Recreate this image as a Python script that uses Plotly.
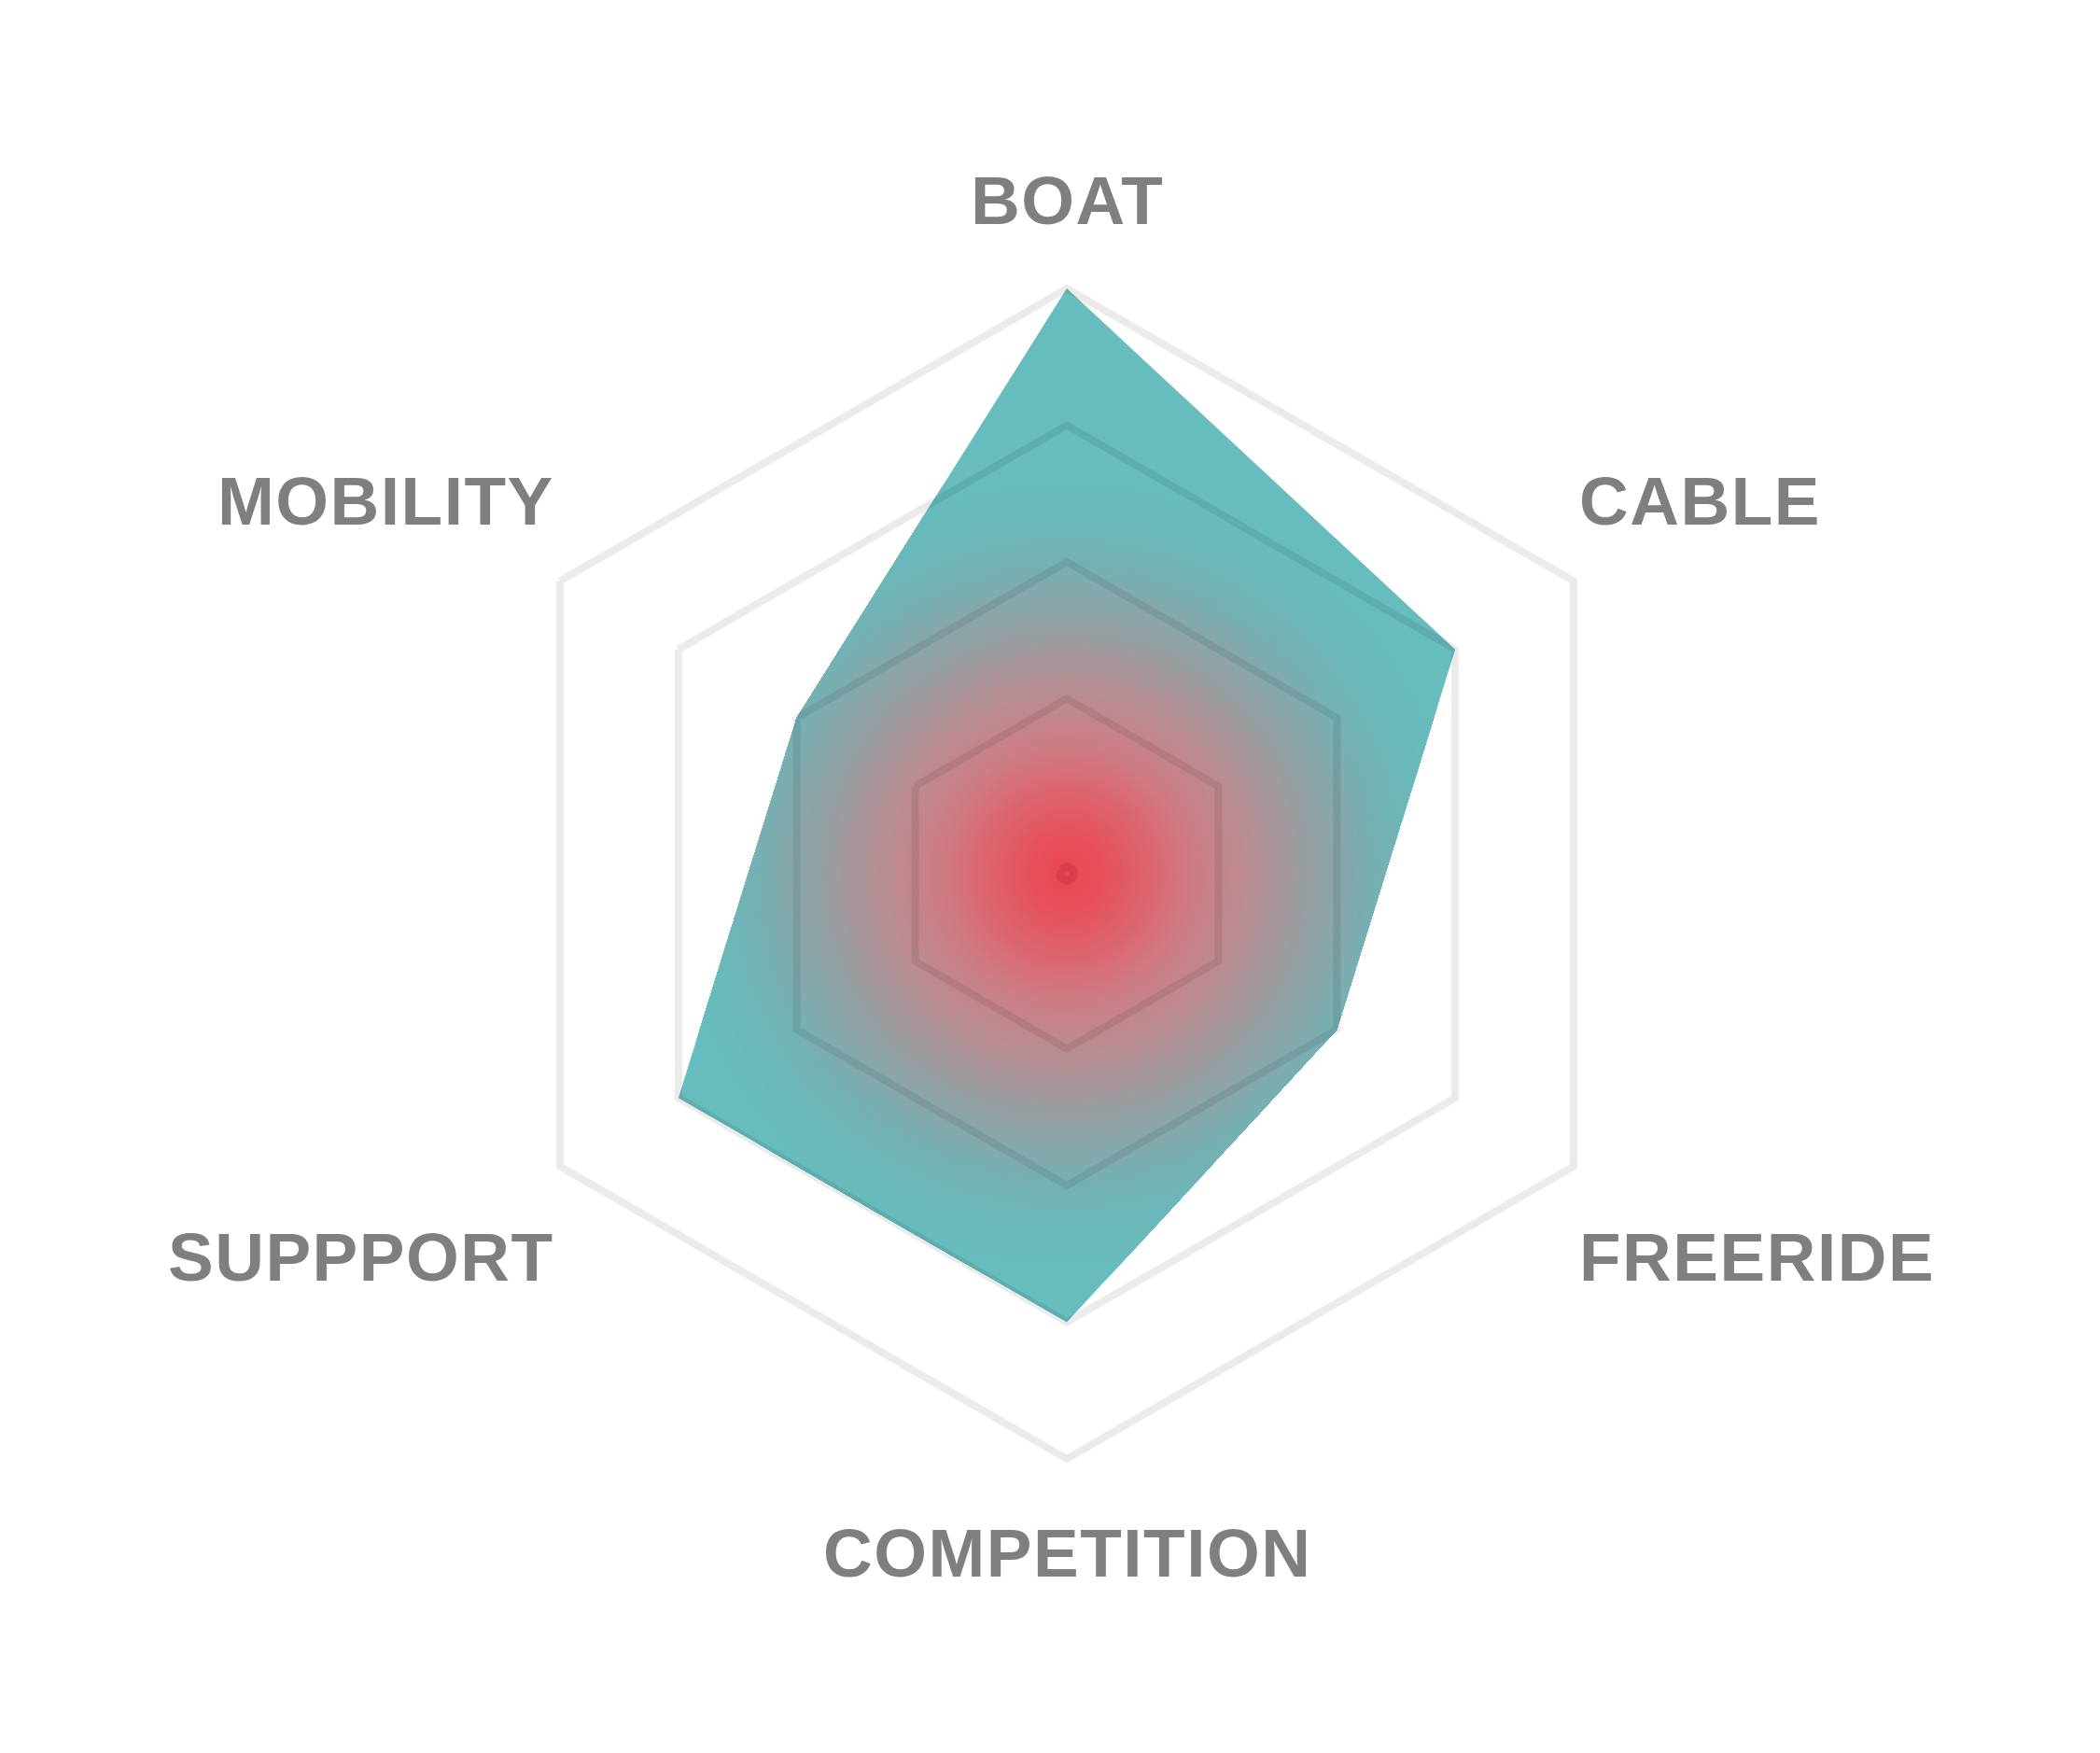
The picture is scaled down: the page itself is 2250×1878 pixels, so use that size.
import numpy as np
import plotly.graph_objects as go

# --- data -------------------------------------------------------------
categories = ["BOAT", "CABLE", "FREERIDE", "COMPETITION", "SUPPPORT", "MOBILITY"]
values = [4, 3, 2, 3, 3, 2]
grid_levels = [1, 2, 3]
r_min, r_max = -0.28, 4

# radial gradient of the area: position (share of outer radius) -> colour
grad_pos = [0.0, 0.06, 0.14, 0.22, 0.33, 0.41, 0.52, 0.60, 0.68, 1.0]
grad_rgb = [(237, 68, 80), (231, 80, 90), (220, 100, 110), (205, 125, 133),
            (180, 145, 150), (152, 158, 161), (120, 175, 178), (106, 184, 186),
            (103, 188, 189), (103, 188, 189)]

# --- layout constants -------------------------------------------------
W, H = 2250, 1878
CX, CY, R = 1143, 936, 627          # centre and outer radius in px
GRID = "rgba(0,0,0,0.08)"
TEAL = "rgb(103,188,189)"
LABEL_DY = [-95, -86, 97, 100, 97, -86]
LABEL_GAP = 4
CENTER_RING = 0.055                 # tiny grid ring that shows as the centre dot

domain = dict(x=[(CX - R) / W, (CX + R) / W], y=[1 - (CY + R) / H, 1 - (CY - R) / H])


def grad_color(t):
    rgb = [np.interp(t, grad_pos, [c[j] for c in grad_rgb]) for j in range(3)]
    return "rgb(%d,%d,%d)" % tuple(round(v) for v in rgb)


n = len(categories)
theta = [i * 360 / n for i in range(n)]
span = r_max - r_min

# polygon in "share of radius" space, used to clip the gradient rings
frac = [(v - r_min) / span for v in values]
pts = np.array([[f * np.sin(np.radians(t)), f * np.cos(np.radians(t))] for f, t in zip(frac, theta)])

phi = np.linspace(0, 360, 721)
k = np.minimum((phi // (360 / n)).astype(int), n - 1)
p = pts[k]
d = pts[(k + 1) % n] - p
u = np.stack([np.sin(np.radians(phi)), np.cos(np.radians(phi))], axis=1)
cross = lambda a, b: a[:, 0] * b[:, 1] - a[:, 1] * b[:, 0]
edge = cross(p, d) / cross(u, d)

fig = go.Figure()

# base area (outer colour of the gradient)
fig.add_trace(go.Scatterpolar(
    r=values + values[:1], theta=theta + theta[:1], subplot="polar",
    mode="lines", fill="toself", fillcolor=TEAL, line=dict(width=0),
    name="score", hoverinfo="skip", showlegend=False))

# gradient rings, from outside to the centre
rhos = np.linspace(0.70, 0.004, 130)
step = rhos[0] - rhos[1]
for rho in rhos:
    rb = np.minimum(edge, rho)
    fig.add_trace(go.Scatterpolar(
        r=r_min + rb * span, theta=phi, subplot="polar",
        mode="lines", fill="toself", fillcolor=grad_color(max(rho - step / 2, 0)),
        line=dict(width=0), hoverinfo="skip", showlegend=False))

# data trace on the category axis (keeps the hexagon grid)
fig.add_trace(go.Scatterpolar(
    r=values + values[:1], theta=categories + categories[:1], subplot="polar2",
    mode="lines", line=dict(width=0, color=TEAL), showlegend=False))

# category labels
annotations = []
for i, name in enumerate(categories):
    a = np.radians(90 - theta[i])
    vx, vy = CX + R * np.cos(a), CY - R * np.sin(a)
    if abs(np.cos(a)) < 1e-6:
        xa, lx = "center", vx
    elif np.cos(a) > 0:
        xa, lx = "left", vx + LABEL_GAP
    else:
        xa, lx = "right", vx - LABEL_GAP
    ly = vy + LABEL_DY[i]
    annotations.append(dict(
        x=lx / W, y=1 - ly / H, xref="paper", yref="paper",
        text='<span style="letter-spacing:1.5px">%s</span>' % name,
        showarrow=False, xanchor=xa, yanchor="middle",
        font=dict(family="Liberation Sans, Arial, sans-serif", size=73, color="#7f7f7f", weight="bold")))

fig.update_layout(
    width=W, height=H,
    margin=dict(l=0, r=0, t=0, b=0),
    paper_bgcolor="white", plot_bgcolor="white",
    showlegend=False,
    annotations=annotations,
    polar=dict(
        domain=domain, bgcolor="rgba(0,0,0,0)",
        angularaxis=dict(type="linear", thetaunit="degrees", rotation=90,
                         direction="clockwise", visible=False),
        radialaxis=dict(range=[r_min, r_max], visible=False)),
    polar2=dict(
        domain=domain, bgcolor="rgba(0,0,0,0)", gridshape="linear",
        angularaxis=dict(type="category", categoryorder="array", categoryarray=categories,
                         rotation=90, direction="clockwise", showgrid=False,
                         showticklabels=False, ticks="", showline=True,
                         linecolor=GRID, linewidth=8),
        radialaxis=dict(range=[r_min, r_max], tickvals=[r_min + CENTER_RING] + grid_levels,
                        showticklabels=False, ticks="", showline=False,
                        gridcolor=GRID, gridwidth=8)),
)

fig.write_html("out.html", config={"displayModeBar": False},
               post_script="document.body.style.margin='0';document.body.style.overflow='hidden';")
